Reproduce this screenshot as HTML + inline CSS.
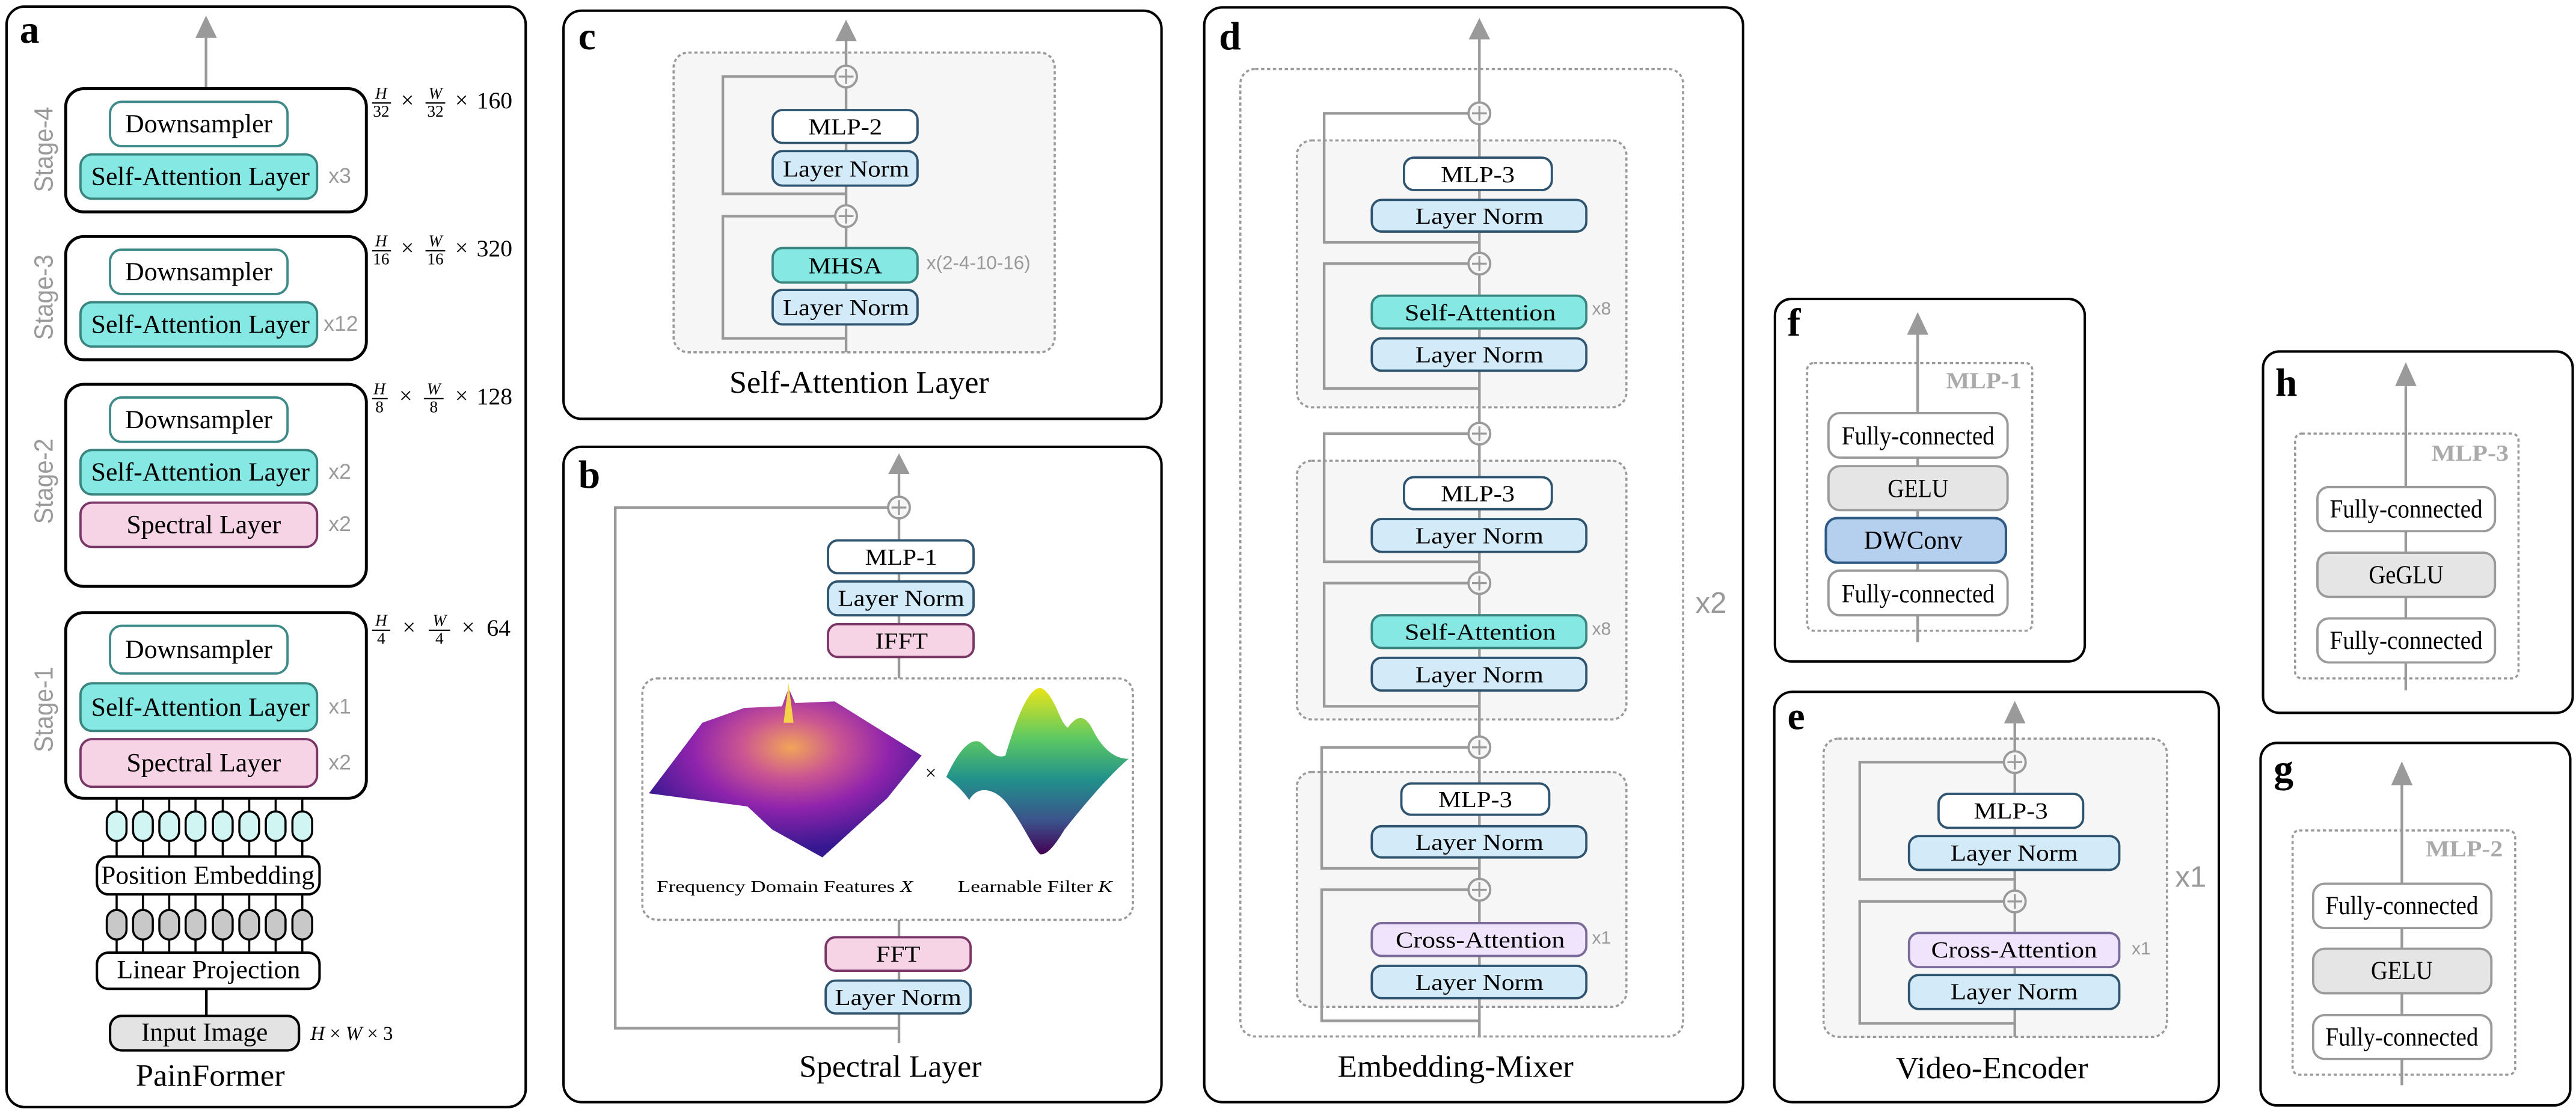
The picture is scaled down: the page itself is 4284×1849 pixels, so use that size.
<!DOCTYPE html>
<html><head><meta charset="utf-8">
<style>
html,body{margin:0;padding:0;background:#fff;}
svg{display:block;}
text{font-family:"Liberation Serif",serif;}
.sans{font-family:"Liberation Sans",sans-serif;}
.gl{stroke:#9a9a9a;stroke-width:1.6;fill:none;}
.pan{fill:#fff;stroke:#000;stroke-width:1.5;}
.dash{stroke:#9a9a9a;stroke-width:1.3;stroke-dasharray:2 1.6;}
.ln{fill:#d3eaf8;stroke:#2f5470;stroke-width:1.4;}
.wb{fill:#fff;stroke:#2f5470;stroke-width:1.4;}
.tl{fill:#86e8e3;stroke:#3a8580;stroke-width:1.4;}
.pk{fill:#f7d4e5;stroke:#7b3668;stroke-width:1.4;}
.ca{fill:#efe4fb;stroke:#7a6a9a;stroke-width:1.4;}
.fc{fill:#fff;stroke:#9a9a9a;stroke-width:1.4;}
.ge{fill:#e5e5e5;stroke:#9a9a9a;stroke-width:1.4;}
.bt{font-size:14px;text-anchor:middle;dominant-baseline:central;}
.at{font-size:16px;text-anchor:middle;dominant-baseline:central;}
.lab{font-size:24px;font-weight:bold;}
.rep{font-family:"Liberation Sans",sans-serif;fill:#999;font-size:11px;dominant-baseline:central;}
.ttl{font-size:19px;text-anchor:middle;dominant-baseline:central;}
.ml{font-size:14px;font-weight:bold;fill:#aaa;text-anchor:middle;dominant-baseline:central;}
.ah{fill:#9a9a9a;}
</style></head><body>
<svg width="4284" height="1849" viewBox="0 0 1568 677" preserveAspectRatio="none" xmlns="http://www.w3.org/2000/svg">
<defs>
<g id="plus"><circle r="6.6" fill="#f6f6f6" stroke="#9a9a9a" stroke-width="1.4"/><path d="M-4.5,0H4.5M0,-4.5V4.5" stroke="#9a9a9a" stroke-width="1.2"/></g>
<radialGradient id="pg" cx="0.52" cy="0.35" r="0.6">
<stop offset="0" stop-color="#f0a050"/><stop offset="0.3" stop-color="#c84c8c"/><stop offset="0.6" stop-color="#8a18a8"/><stop offset="1" stop-color="#2a0c8a"/></radialGradient>
<linearGradient id="vg" x1="0" y1="0" x2="0" y2="1">
<stop offset="0" stop-color="#e8e419"/><stop offset="0.3" stop-color="#5ec962"/><stop offset="0.55" stop-color="#21918c"/><stop offset="0.8" stop-color="#3b528b"/><stop offset="1" stop-color="#440154"/></linearGradient>
</defs>

<!-- ============ PANEL A ============ -->
<rect class="pan" x="4" y="4" width="316" height="670" rx="11"/>
<text class="lab" x="12" y="26">a</text>
<line class="gl" x1="125.4" y1="54" x2="125.4" y2="20"/>
<polygon class="ah" points="119,23 132,23 125.4,9.5"/>

<rect x="40" y="54" width="183" height="75" rx="11" fill="#fff" stroke="#000" stroke-width="1.8"/>
<rect x="67" y="62" width="108" height="27" rx="7" fill="#fff" stroke="#3d8a88" stroke-width="1.4"/>
<text class="at" x="121" y="75.5" textLength="89.6" lengthAdjust="spacingAndGlyphs">Downsampler</text>
<rect class="tl" x="49" y="94" width="144" height="27" rx="7"/>
<text class="at" x="122" y="107.5" textLength="133" lengthAdjust="spacingAndGlyphs">Self-Attention Layer</text>
<text class="rep" x="200" y="107" style="font-size:13px">x3</text>
<text class="sans" transform="translate(32,91) rotate(-90)" text-anchor="middle" font-size="16" fill="#9a9a9a" textLength="52" lengthAdjust="spacingAndGlyphs">Stage-4</text>

<rect x="40" y="144" width="183" height="75" rx="11" fill="#fff" stroke="#000" stroke-width="1.8"/>
<rect x="67" y="152" width="108" height="27" rx="7" fill="#fff" stroke="#3d8a88" stroke-width="1.4"/>
<text class="at" x="121" y="165.5" textLength="89.6" lengthAdjust="spacingAndGlyphs">Downsampler</text>
<rect class="tl" x="49" y="184" width="144" height="27" rx="7"/>
<text class="at" x="122" y="197.5" textLength="133" lengthAdjust="spacingAndGlyphs">Self-Attention Layer</text>
<text class="rep" x="197" y="197" style="font-size:13px">x12</text>
<text class="sans" transform="translate(32,181) rotate(-90)" text-anchor="middle" font-size="16" fill="#9a9a9a" textLength="52" lengthAdjust="spacingAndGlyphs">Stage-3</text>

<rect x="40" y="234" width="183" height="123" rx="11" fill="#fff" stroke="#000" stroke-width="1.8"/>
<rect x="67" y="242" width="108" height="27" rx="7" fill="#fff" stroke="#3d8a88" stroke-width="1.4"/>
<text class="at" x="121" y="255.5" textLength="89.6" lengthAdjust="spacingAndGlyphs">Downsampler</text>
<rect class="tl" x="49" y="274" width="144" height="27" rx="7"/>
<text class="at" x="122" y="287.5" textLength="133" lengthAdjust="spacingAndGlyphs">Self-Attention Layer</text>
<rect class="pk" x="49" y="306" width="144" height="27" rx="7"/>
<text class="at" x="124" y="319.5" textLength="94" lengthAdjust="spacingAndGlyphs">Spectral Layer</text>
<text class="rep" x="200" y="287" style="font-size:13px">x2</text>
<text class="rep" x="200" y="319" style="font-size:13px">x2</text>
<text class="sans" transform="translate(32,293) rotate(-90)" text-anchor="middle" font-size="16" fill="#9a9a9a" textLength="52" lengthAdjust="spacingAndGlyphs">Stage-2</text>

<rect x="40" y="373" width="183" height="113" rx="11" fill="#fff" stroke="#000" stroke-width="1.8"/>
<rect x="67" y="381" width="108" height="29" rx="7" fill="#fff" stroke="#3d8a88" stroke-width="1.4"/>
<text class="at" x="121" y="395.5" textLength="89.6" lengthAdjust="spacingAndGlyphs">Downsampler</text>
<rect class="tl" x="49" y="416" width="144" height="29" rx="7"/>
<text class="at" x="122" y="430.5" textLength="133" lengthAdjust="spacingAndGlyphs">Self-Attention Layer</text>
<rect class="pk" x="49" y="450" width="144" height="29" rx="7"/>
<text class="at" x="124" y="464.5" textLength="94" lengthAdjust="spacingAndGlyphs">Spectral Layer</text>
<text class="rep" x="200" y="430" style="font-size:13px">x1</text>
<text class="rep" x="200" y="464" style="font-size:13px">x2</text>
<text class="sans" transform="translate(32,432) rotate(-90)" text-anchor="middle" font-size="16" fill="#9a9a9a" textLength="52" lengthAdjust="spacingAndGlyphs">Stage-1</text>

<g font-size="10" text-anchor="middle">
 <g transform="translate(0,0)">
  <text x="232" y="60" font-style="italic">H</text><line x1="226.5" y1="62.7" x2="238" y2="62.7" stroke="#000" stroke-width="0.8"/><text x="232" y="71">32</text>
  <text x="248" y="65.5" font-size="14">×</text>
  <text x="265" y="60" font-style="italic">W</text><line x1="259" y1="62.7" x2="271" y2="62.7" stroke="#000" stroke-width="0.8"/><text x="265" y="71">32</text>
  <text x="281" y="65.5" font-size="14">×</text>
  <text x="301" y="66" font-size="14.5">160</text>
 </g>
 <g transform="translate(0,90)">
  <text x="232" y="60" font-style="italic">H</text><line x1="226.5" y1="62.7" x2="238" y2="62.7" stroke="#000" stroke-width="0.8"/><text x="232" y="71">16</text>
  <text x="248" y="65.5" font-size="14">×</text>
  <text x="265" y="60" font-style="italic">W</text><line x1="259" y1="62.7" x2="271" y2="62.7" stroke="#000" stroke-width="0.8"/><text x="265" y="71">16</text>
  <text x="281" y="65.5" font-size="14">×</text>
  <text x="301" y="66" font-size="14.5">320</text>
 </g>
 <g transform="translate(0,180)">
  <text x="231" y="60" font-style="italic">H</text><line x1="226.5" y1="62.7" x2="236" y2="62.7" stroke="#000" stroke-width="0.8"/><text x="231" y="71">8</text>
  <text x="247" y="65.5" font-size="14">×</text>
  <text x="264" y="60" font-style="italic">W</text><line x1="258" y1="62.7" x2="270" y2="62.7" stroke="#000" stroke-width="0.8"/><text x="264" y="71">8</text>
  <text x="281" y="65.5" font-size="14">×</text>
  <text x="301" y="66" font-size="14.5">128</text>
 </g>
 <g transform="translate(0,321)">
  <text x="232" y="60" font-style="italic">H</text><line x1="226.5" y1="62.7" x2="237.5" y2="62.7" stroke="#000" stroke-width="0.8"/><text x="232" y="71">4</text>
  <text x="249" y="65.5" font-size="14">×</text>
  <text x="267.5" y="60" font-style="italic">W</text><line x1="261" y1="62.7" x2="274" y2="62.7" stroke="#000" stroke-width="0.8"/><text x="267.5" y="71">4</text>
  <text x="285" y="65.5" font-size="14">×</text>
  <text x="303.5" y="66" font-size="14.5">64</text>
 </g>
</g>

<g stroke="#000" stroke-width="1.3">
 <path d="M71,486V521M87,486V521M103,486V521M119,486V521M135.6,486V521M151.7,486V521M167.8,486V521M184,486V521"/>
 <path d="M71,545V580M87,545V580M103,545V580M119,545V580M135.6,545V580M151.7,545V580M167.8,545V580M184,545V580"/>
 <g fill="#d0f5f3">
  <rect x="65" y="494" width="12" height="18" rx="6"/><rect x="81" y="494" width="12" height="18" rx="6"/><rect x="97" y="494" width="12" height="18" rx="6"/><rect x="113" y="494" width="12" height="18" rx="6"/><rect x="129.6" y="494" width="12" height="18" rx="6"/><rect x="145.7" y="494" width="12" height="18" rx="6"/><rect x="161.8" y="494" width="12" height="18" rx="6"/><rect x="178" y="494" width="12" height="18" rx="6"/>
 </g>
 <g fill="#c8c8c8">
  <rect x="65" y="554" width="12" height="18" rx="6"/><rect x="81" y="554" width="12" height="18" rx="6"/><rect x="97" y="554" width="12" height="18" rx="6"/><rect x="113" y="554" width="12" height="18" rx="6"/><rect x="129.6" y="554" width="12" height="18" rx="6"/><rect x="145.7" y="554" width="12" height="18" rx="6"/><rect x="161.8" y="554" width="12" height="18" rx="6"/><rect x="178" y="554" width="12" height="18" rx="6"/>
 </g>
 <line x1="125.6" y1="602" x2="125.6" y2="619" stroke-width="1.6"/>
</g>
<rect x="59" y="521.5" width="135.5" height="23" rx="7" fill="#fff" stroke="#000" stroke-width="1.5"/>
<text class="at" x="126.5" y="533" textLength="130" lengthAdjust="spacingAndGlyphs">Position Embedding</text>
<rect x="59" y="580" width="135.5" height="22" rx="7" fill="#fff" stroke="#000" stroke-width="1.5"/>
<text class="at" x="127" y="590.5" textLength="111.6" lengthAdjust="spacingAndGlyphs">Linear Projection</text>
<rect x="67" y="618.5" width="115" height="21" rx="7" fill="#e3e3e3" stroke="#000" stroke-width="1.5"/>
<text class="at" x="124.5" y="628.5" textLength="77" lengthAdjust="spacingAndGlyphs">Input Image</text>
<text x="189" y="633" font-size="12" font-style="italic">H <tspan font-style="normal">×</tspan> W <tspan font-style="normal">×</tspan> <tspan font-style="normal">3</tspan></text>
<text class="ttl" x="128" y="655" textLength="90.7" lengthAdjust="spacingAndGlyphs">PainFormer</text>

<!-- ============ PANEL C ============ -->
<rect class="pan" x="343" y="6.5" width="364" height="248.5" rx="11"/>
<text class="lab" x="352" y="30">c</text>
<rect x="410" y="32" width="232" height="182.5" rx="9" fill="#f6f6f6" class="dash"/>
<line class="gl" x1="515" y1="214.5" x2="515" y2="22"/>
<polygon class="ah" points="508.5,25 521.5,25 515,12"/>
<polyline class="gl" points="515,118 440,118 440,46.6 508,46.6"/>
<polyline class="gl" points="515,206 440,206 440,131.6 508,131.6"/>
<use href="#plus" x="515" y="46.6"/><use href="#plus" x="515" y="131.6"/>
<rect class="wb" x="470.3" y="67" width="88.2" height="20" rx="6"/>
<text class="bt" x="514.5" y="77.5" textLength="45" lengthAdjust="spacingAndGlyphs">MLP-2</text>
<rect class="ln" x="470.3" y="92" width="88.2" height="21" rx="6"/>
<text class="bt" x="515" y="103" textLength="77" lengthAdjust="spacingAndGlyphs">Layer Norm</text>
<rect class="tl" x="470.3" y="151" width="88.2" height="21" rx="6"/>
<text class="bt" x="514.5" y="162" textLength="45" lengthAdjust="spacingAndGlyphs">MHSA</text>
<rect class="ln" x="470.3" y="176.5" width="88.2" height="21" rx="6"/>
<text class="bt" x="515" y="187.5" textLength="77" lengthAdjust="spacingAndGlyphs">Layer Norm</text>
<text class="rep" x="564" y="160" style="font-size:11.5px">x(2-4-10-16)</text>
<text class="ttl" x="523" y="233" textLength="158" lengthAdjust="spacingAndGlyphs">Self-Attention Layer</text>

<!-- ============ PANEL B ============ -->
<rect class="pan" x="343" y="272" width="364" height="399" rx="11"/>
<text class="lab" x="352" y="297">b</text>
<polyline class="gl" points="547.2,626 374.5,626 374.5,309 540.5,309"/>
<line class="gl" x1="547.2" y1="635" x2="547.2" y2="286"/>
<polygon class="ah" points="540.7,288.5 553.7,288.5 547.2,276"/>
<use href="#plus" x="547.2" y="309"/>
<rect x="391" y="413" width="298.6" height="147" rx="9" fill="#fff" class="dash"/>
<rect class="wb" x="504" y="329" width="88.6" height="20" rx="6"/>
<text class="bt" x="548.5" y="339.5" textLength="44" lengthAdjust="spacingAndGlyphs">MLP-1</text>
<rect class="ln" x="504" y="354" width="88.6" height="20.6" rx="6"/>
<text class="bt" x="548.5" y="364.5" textLength="77" lengthAdjust="spacingAndGlyphs">Layer Norm</text>
<rect class="pk" x="504" y="380" width="88.6" height="20" rx="6"/>
<text class="bt" x="548.8" y="390.5" textLength="32" lengthAdjust="spacingAndGlyphs">IFFT</text>
<rect class="pk" x="502.6" y="570.6" width="88.2" height="20.4" rx="6"/>
<text class="bt" x="546.7" y="581" textLength="27" lengthAdjust="spacingAndGlyphs">FFT</text>
<rect class="ln" x="502.6" y="597" width="88.2" height="20" rx="6"/>
<text class="bt" x="546.7" y="607.5" textLength="77" lengthAdjust="spacingAndGlyphs">Layer Norm</text>
<polygon points="395,483 427.5,440 453,431 476,430 480,419 484,428 508,427 561,460 540,486 500.6,522 470,505 455,491" fill="url(#pg)" opacity="0.95"/>
<polygon points="477,440 480,416 483,440" fill="#f6d24a"/>
<path d="M576,473 C582,460 590,448 597,452 C604,458 606,462 612,460 C618,440 626,417 634,419 C642,423 645,440 650,443 C655,436 660,434 665,444 C672,458 680,462 687,462 C675,472 660,490 648,505 C642,515 637,521 633,520 C628,515 622,500 612,488 C605,480 595,478 590,487 C585,480 580,476 576,473 Z" fill="url(#vg)"/>
<text x="566.6" y="474.5" font-size="12" text-anchor="middle">×</text>
<text x="399.7" y="543" font-size="10" textLength="156" lengthAdjust="spacingAndGlyphs">Frequency Domain Features <tspan font-style="italic">X</tspan></text>
<text x="583" y="543" font-size="10" textLength="94" lengthAdjust="spacingAndGlyphs">Learnable Filter <tspan font-style="italic">K</tspan></text>
<text class="ttl" x="542" y="649.5" textLength="111" lengthAdjust="spacingAndGlyphs">Spectral Layer</text>

<!-- ============ PANEL D ============ -->
<rect class="pan" x="733" y="4.5" width="328" height="666.5" rx="11"/>
<text class="lab" x="742" y="30">d</text>
<rect x="755" y="42" width="269.5" height="589" rx="9" fill="#fff" class="dash"/>
<rect x="789.4" y="85.5" width="200.6" height="162.5" rx="9" fill="#f6f6f6" class="dash"/>
<rect x="789.4" y="280.5" width="200.6" height="157.5" rx="9" fill="#f6f6f6" class="dash"/>
<rect x="789.4" y="470" width="200.6" height="143" rx="9" fill="#f6f6f6" class="dash"/>
<line class="gl" x1="900.5" y1="631" x2="900.5" y2="21"/>
<polygon class="ah" points="894,24 907,24 900.5,11"/>
<polyline class="gl" points="900.5,147.6 806,147.6 806,69 894,69"/>
<polyline class="gl" points="900.5,236.5 806,236.5 806,160.5 894,160.5"/>
<polyline class="gl" points="900.5,342 806,342 806,264 894,264"/>
<polyline class="gl" points="900.5,430 806,430 806,355 894,355"/>
<polyline class="gl" points="900.5,528.7 804.5,528.7 804.5,455 894,455"/>
<polyline class="gl" points="900.5,621.5 804.5,621.5 804.5,541.7 894,541.7"/>
<use href="#plus" x="900.5" y="69"/><use href="#plus" x="900.5" y="160.5"/><use href="#plus" x="900.5" y="264"/><use href="#plus" x="900.5" y="355"/><use href="#plus" x="900.5" y="455"/><use href="#plus" x="900.5" y="541.7"/>
<rect class="wb" x="854.6" y="96" width="90" height="19.7" rx="6"/>
<text class="bt" x="899.5" y="106.5" textLength="45" lengthAdjust="spacingAndGlyphs">MLP-3</text>
<rect class="ln" x="835" y="121.7" width="130.6" height="19.3" rx="6"/>
<text class="bt" x="900.5" y="131.8" textLength="78" lengthAdjust="spacingAndGlyphs">Layer Norm</text>
<rect class="tl" x="835" y="180" width="130.6" height="20" rx="6"/>
<text class="bt" x="901" y="190.5" textLength="92" lengthAdjust="spacingAndGlyphs">Self-Attention</text>
<rect class="ln" x="835" y="206" width="130.6" height="19.7" rx="6"/>
<text class="bt" x="900.5" y="216.3" textLength="78" lengthAdjust="spacingAndGlyphs">Layer Norm</text>
<text class="rep" x="969" y="188">x8</text>
<rect class="wb" x="854.6" y="290.5" width="90" height="19.5" rx="6"/>
<text class="bt" x="899.5" y="300.7" textLength="45" lengthAdjust="spacingAndGlyphs">MLP-3</text>
<rect class="ln" x="835" y="316" width="130.6" height="20" rx="6"/>
<text class="bt" x="900.5" y="326.5" textLength="78" lengthAdjust="spacingAndGlyphs">Layer Norm</text>
<rect class="tl" x="835" y="374.6" width="130.6" height="19.9" rx="6"/>
<text class="bt" x="901" y="385" textLength="92" lengthAdjust="spacingAndGlyphs">Self-Attention</text>
<rect class="ln" x="835" y="400.5" width="130.6" height="19.9" rx="6"/>
<text class="bt" x="900.5" y="411" textLength="78" lengthAdjust="spacingAndGlyphs">Layer Norm</text>
<text class="rep" x="969" y="383">x8</text>
<rect class="wb" x="853" y="477" width="90" height="19" rx="6"/>
<text class="bt" x="898" y="487" textLength="45" lengthAdjust="spacingAndGlyphs">MLP-3</text>
<rect class="ln" x="835" y="503" width="130.6" height="19" rx="6"/>
<text class="bt" x="900.5" y="513" textLength="78" lengthAdjust="spacingAndGlyphs">Layer Norm</text>
<rect class="ca" x="835" y="562" width="130.6" height="20" rx="6"/>
<text class="bt" x="901" y="572.5" textLength="103" lengthAdjust="spacingAndGlyphs">Cross-Attention</text>
<rect class="ln" x="835" y="588" width="130.6" height="19.7" rx="6"/>
<text class="bt" x="900.5" y="598.3" textLength="78" lengthAdjust="spacingAndGlyphs">Layer Norm</text>
<text class="rep" x="969" y="571">x1</text>
<text class="rep" x="1032" y="367" style="font-size:18px">x2</text>
<text class="ttl" x="886" y="649.5" textLength="143.6" lengthAdjust="spacingAndGlyphs">Embedding-Mixer</text>

<!-- ============ PANEL F ============ -->
<rect class="pan" x="1080.4" y="182" width="188.6" height="220.7" rx="10"/>
<text class="lab" x="1088" y="204.5">f</text>
<rect x="1100" y="221" width="137" height="163" rx="4" fill="#fff" class="dash"/>
<text class="ml" x="1207.6" y="232" textLength="46" lengthAdjust="spacingAndGlyphs">MLP-1</text>
<line class="gl" x1="1167.3" y1="391" x2="1167.3" y2="201"/>
<polygon class="ah" points="1160.8,203.8 1173.8,203.8 1167.3,190"/>
<rect class="fc" x="1113" y="251.5" width="109" height="27.1" rx="7"/>
<text class="at" x="1167.5" y="265.5" textLength="93" lengthAdjust="spacingAndGlyphs">Fully-connected</text>
<rect class="ge" x="1113" y="283.8" width="109" height="26.8" rx="7"/>
<text class="at" x="1167.5" y="297.5" textLength="37" lengthAdjust="spacingAndGlyphs">GELU</text>
<rect x="1111.4" y="315.4" width="109.6" height="27.2" rx="7" fill="#b4d0ee" stroke="#2f5a86" stroke-width="1.5"/>
<text class="at" x="1164.5" y="329" textLength="60" lengthAdjust="spacingAndGlyphs">DWConv</text>
<rect class="fc" x="1113" y="347.4" width="109" height="27.2" rx="7"/>
<text class="at" x="1167.5" y="361.5" textLength="93" lengthAdjust="spacingAndGlyphs">Fully-connected</text>

<!-- ============ PANEL E ============ -->
<rect class="pan" x="1080" y="421.2" width="270.6" height="249.8" rx="11"/>
<text class="lab" x="1088" y="444">e</text>
<rect x="1110" y="449.7" width="209" height="181.6" rx="9" fill="#f6f6f6" class="dash"/>
<line class="gl" x1="1226.4" y1="631.3" x2="1226.4" y2="437"/>
<polygon class="ah" points="1219.9,440.4 1232.9,440.4 1226.4,426.7"/>
<polyline class="gl" points="1226.4,535.4 1132,535.4 1132,464 1220,464"/>
<polyline class="gl" points="1226.4,623 1132,623 1132,548.8 1220,548.8"/>
<use href="#plus" x="1226.4" y="464"/><use href="#plus" x="1226.4" y="548.8"/>
<rect class="wb" x="1180" y="483.3" width="88" height="20.7" rx="6"/>
<text class="bt" x="1224" y="494" textLength="45" lengthAdjust="spacingAndGlyphs">MLP-3</text>
<rect class="ln" x="1162" y="509" width="128" height="20.6" rx="6"/>
<text class="bt" x="1226" y="519.5" textLength="77.5" lengthAdjust="spacingAndGlyphs">Layer Norm</text>
<rect class="ca" x="1162" y="568" width="128" height="20.8" rx="6"/>
<text class="bt" x="1226" y="578.5" textLength="101" lengthAdjust="spacingAndGlyphs">Cross-Attention</text>
<rect class="ln" x="1162" y="593.6" width="128" height="20.7" rx="6"/>
<text class="bt" x="1226" y="604" textLength="77.5" lengthAdjust="spacingAndGlyphs">Layer Norm</text>
<text class="rep" x="1297.5" y="577.6">x1</text>
<text class="rep" x="1324" y="533.8" style="font-size:18px">x1</text>
<text class="ttl" x="1212.5" y="650.5" textLength="117" lengthAdjust="spacingAndGlyphs">Video-Encoder</text>

<!-- ============ PANEL H ============ -->
<rect class="pan" x="1377.5" y="214" width="188.5" height="220" rx="10"/>
<text class="lab" x="1385" y="241">h</text>
<rect x="1397" y="264" width="136" height="149" rx="4" fill="#fff" class="dash"/>
<text class="ml" x="1503.5" y="276" textLength="47" lengthAdjust="spacingAndGlyphs">MLP-3</text>
<line class="gl" x1="1464.4" y1="420.3" x2="1464.4" y2="232"/>
<polygon class="ah" points="1457.9,235 1470.9,235 1464.4,220.5"/>
<rect class="fc" x="1410.6" y="296.5" width="108.1" height="26.9" rx="7"/>
<text class="at" x="1464.6" y="310" textLength="93" lengthAdjust="spacingAndGlyphs">Fully-connected</text>
<rect class="ge" x="1410.6" y="336.5" width="108.1" height="26.9" rx="7"/>
<text class="at" x="1464.6" y="350" textLength="45.5" lengthAdjust="spacingAndGlyphs">GeGLU</text>
<rect class="fc" x="1410.6" y="376.5" width="108.1" height="26.8" rx="7"/>
<text class="at" x="1464.6" y="390" textLength="93" lengthAdjust="spacingAndGlyphs">Fully-connected</text>

<!-- ============ PANEL G ============ -->
<rect class="pan" x="1376" y="452.3" width="188.5" height="220.7" rx="10"/>
<text class="lab" x="1384" y="476">g</text>
<rect x="1395.5" y="505.6" width="135.5" height="148.7" rx="4" fill="#fff" class="dash"/>
<text class="ml" x="1500" y="517" textLength="47" lengthAdjust="spacingAndGlyphs">MLP-2</text>
<line class="gl" x1="1462" y1="660.7" x2="1462" y2="475"/>
<polygon class="ah" points="1455.5,478 1468.5,478 1462,463.5"/>
<rect class="fc" x="1408" y="538" width="108.5" height="27" rx="7"/>
<text class="at" x="1462" y="551.5" textLength="93" lengthAdjust="spacingAndGlyphs">Fully-connected</text>
<rect class="ge" x="1408" y="577.6" width="108.5" height="27.1" rx="7"/>
<text class="at" x="1462" y="591" textLength="37.6" lengthAdjust="spacingAndGlyphs">GELU</text>
<rect class="fc" x="1408" y="618" width="108.5" height="26.7" rx="7"/>
<text class="at" x="1462" y="631.5" textLength="93" lengthAdjust="spacingAndGlyphs">Fully-connected</text>
</svg>
</body></html>
